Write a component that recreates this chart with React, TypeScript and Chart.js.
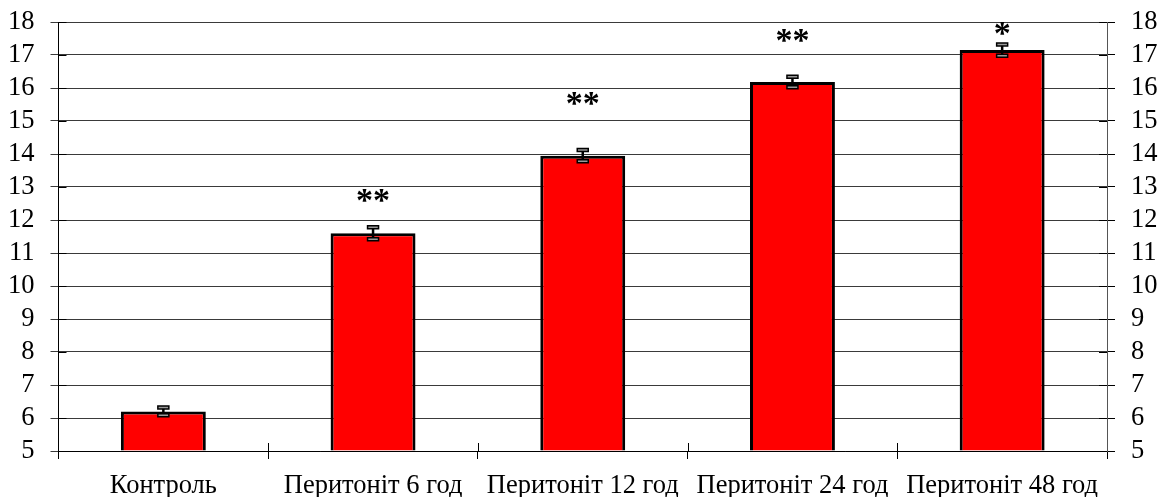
import React, { useEffect, useRef } from "react";
import { Chart, registerables } from "chart.js";

Chart.register(...registerables);

const categories = ["Контроль", "Перитоніт 6 год", "Перитоніт 12 год", "Перитоніт 24 год", "Перитоніт 48 год"];
const values = [6.2, 11.6, 13.95, 16.18, 17.15];
const errors = [0.12, 0.18, 0.17, 0.16, 0.17];
const marks = ["", "**", "**", "**", "*"];
const markLevels = [0, 12.6, 15.55, 17.45, 17.67];
const yMin = 5;
const yMax = 18;

const FONT = "'Liberation Serif', 'Times New Roman', serif";
const GRID = "#3a3a3a";

const overlayPlugin = {
  id: "overlay",
  afterDraw(chart: any) {
    const ctx = chart.ctx;
    const x = chart.scales.x;
    const y = chart.scales.y;
    const area = chart.chartArea;
    const meta = chart.getDatasetMeta(0);
    ctx.save();
    // inward tick marks
    ctx.strokeStyle = "#000";
    ctx.lineWidth = 1;
    y.ticks.forEach((t: any) => {
      const py = Math.round(y.getPixelForValue(t.value)) + 0.5;
      ctx.beginPath();
      ctx.moveTo(area.left, py);
      ctx.lineTo(area.left + 8, py);
      ctx.moveTo(area.right - 8, py);
      ctx.lineTo(area.right, py);
      ctx.stroke();
    });
    for (let i = 1; i < categories.length; i++) {
      const px = Math.round((x.getPixelForValue(i - 1) + x.getPixelForValue(i)) / 2) + 0.5;
      ctx.beginPath();
      ctx.moveTo(px, area.bottom - 8);
      ctx.lineTo(px, area.bottom);
      ctx.stroke();
    }
    values.forEach((v, i) => {
      const cx = meta.data[i].x;
      const top = y.getPixelForValue(v + errors[i]);
      const bot = y.getPixelForValue(v - errors[i]);
      ctx.strokeStyle = "#000";
      ctx.lineWidth = 2.5;
      ctx.beginPath();
      ctx.moveTo(cx, top);
      ctx.lineTo(cx, bot);
      ctx.stroke();
      ctx.lineWidth = 1.5;
      ctx.fillStyle = "#999";
      [top, bot].forEach((py) => {
        ctx.beginPath();
        ctx.rect(cx - 5.5, py - 1.5, 11, 3);
        ctx.fill();
        ctx.stroke();
      });
      if (marks[i]) {
        ctx.fillStyle = "#000";
        ctx.font = `bold 34px ${FONT}`;
        ctx.textAlign = "center";
        ctx.textBaseline = "middle";
        ctx.fillText(marks[i], cx, y.getPixelForValue(markLevels[i]) + 2);
      }
    });
    ctx.restore();
  },
};

export default function App() {
  const ref = useRef<HTMLCanvasElement>(null);
  useEffect(() => {
    if (!ref.current) return;
    const chart = new Chart(ref.current, {
      type: "bar",
      data: {
        labels: categories,
        datasets: [
          {
            data: values,
            backgroundColor: "#FF0000",
            borderColor: "#000",
            borderWidth: 3,
            barPercentage: 0.405,
            categoryPercentage: 1,
            base: yMin,
          },
        ],
      },
      options: {
        animation: false,
        responsive: true,
        maintainAspectRatio: false,
        layout: { padding: { top: 22, left: 0, right: 0, bottom: 0 } },
        plugins: { legend: { display: false }, tooltip: { enabled: false } },
        scales: {
          x: {
            offset: true,
            grid: {
              offset: true,
              drawOnChartArea: false,
              drawTicks: true,
              tickLength: 8,
              color: "#000",
            },
            border: { color: "#000", width: 1 },
            ticks: {
              color: "#000",
              font: { family: FONT, size: 26.5 },
              padding: 11,
              maxRotation: 0,
              autoSkip: false,
            },
            afterFit(scale: any) {
              scale.height = 46;
              scale.paddingLeft = 0;
              scale.paddingRight = 0;
            },
          },
          y: {
            position: "left",
            min: yMin,
            max: yMax,
            grid: { color: GRID, tickLength: 8, lineWidth: 1 },
            border: { color: "#000", width: 1 },
            ticks: {
              stepSize: 1,
              autoSkip: false,
              color: "#000",
              font: { family: FONT, size: 26.5 },
              padding: 16,
            },
            afterFit(scale: any) {
              scale.width = 58.5;
              scale.paddingTop = 0;
              scale.paddingBottom = 0;
            },
          },
          y2: {
            position: "right",
            min: yMin,
            max: yMax,
            grid: { drawOnChartArea: false, color: "#000", tickLength: 8 },
            border: { color: "#555", width: 1 },
            ticks: {
              stepSize: 1,
              autoSkip: false,
              color: "#000",
              font: { family: FONT, size: 26.5 },
              padding: 16,
            },
            afterFit(scale: any) {
              scale.width = 57;
              scale.paddingTop = 0;
              scale.paddingBottom = 0;
            },
          },
        },
      },
      plugins: [overlayPlugin],
    });
    return () => chart.destroy();
  }, []);
  return (
    <div style={{ position: "fixed", left: 0, top: 0, width: 1164, height: 497, background: "#fff" }}>
      <canvas ref={ref} />
    </div>
  );
}
